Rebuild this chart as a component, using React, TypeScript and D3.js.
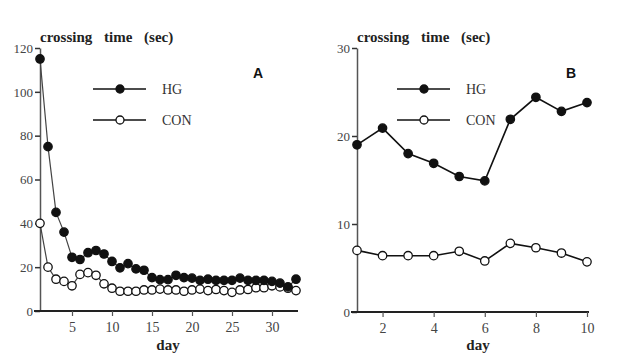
import * as d3 from "d3";
import { useEffect, useRef } from "react";

// panel A: days 1..33
const daysA = d3.range(1, 34);
const hgA = [115, 75, 45, 36, 24.5, 23.5, 26.6, 27.6, 26, 22.6, 19.7, 21.6, 19.2, 18.6, 15.2, 14.3, 14.3, 16.3, 15.2, 15, 14, 14.5, 14, 14, 14, 15, 14, 14, 14, 13.5, 12.7, 11, 14.5];
const conA = [40, 20, 14.5, 13.5, 11.5, 16.7, 17.5, 16.3, 12.4, 10.4, 9, 9, 9, 9.6, 9.6, 10, 9.6, 9.6, 9, 9.6, 10, 9.3, 9.8, 9.3, 8.5, 9.6, 9.8, 10.6, 10.6, 11.5, 11, 10.4, 9.3];
const yTicksA = [0, 20, 40, 60, 80, 100, 120];
const xTicksA = [5, 10, 15, 20, 25, 30];

// panel B: days 1..10
const daysB = d3.range(1, 11);
const hgB = [19, 20.9, 18, 16.9, 15.4, 14.9, 21.9, 24.4, 22.8, 23.8];
const conB = [7, 6.4, 6.4, 6.4, 6.9, 5.8, 7.8, 7.3, 6.7, 5.7];
const yTicksB = [0, 10, 20, 30];
const xTicksB = [2, 4, 6, 8, 10];

const W = 624;
const H = 360;
const serif = "'Liberation Serif', 'DejaVu Serif', serif";
const sans = "'Liberation Sans', Arial, sans-serif";

type Panel = {
  days: number[];
  hg: number[];
  con: number[];
  xDomain: [number, number];
  xRange: [number, number];
  yMax: number;
  yTicks: number[];
  xTicks: number[];
  top: number;
  bottom: number;
  letter: string;
  letterX: number;
  legendX: number;
  lineColor: string;
  lineWidth: number;
};

const panels: Panel[] = [
  {
    days: daysA, hg: hgA, con: conA,
    xDomain: [1, 33], xRange: [40, 296],
    yMax: 120, yTicks: yTicksA, xTicks: xTicksA,
    top: 48, bottom: 311,
    letter: "A", letterX: 253, legendX: 93,
    lineColor: "#444", lineWidth: 1.2,
  },
  {
    days: daysB, hg: hgB, con: conB,
    xDomain: [1, 10], xRange: [357, 587],
    yMax: 30, yTicks: yTicksB, xTicks: xTicksB,
    top: 48, bottom: 312,
    letter: "B", letterX: 566, legendX: 397,
    lineColor: "#111", lineWidth: 1.6,
  },
];

const App = () => {
  const ref = useRef<SVGSVGElement>(null);

  useEffect(() => {
    const svg = d3.select(ref.current);
    svg.selectAll("*").remove();
    svg.append("rect").attr("width", W).attr("height", H).attr("fill", "#fff");

    panels.forEach((p) => {
      const x = d3.scaleLinear().domain(p.xDomain).range(p.xRange);
      const y = d3.scaleLinear().domain([0, p.yMax]).range([p.bottom, p.top]);
      const left = p.xRange[0];

      // y axis
      const gy = svg.append("g")
        .attr("transform", "translate(" + left + ",0)")
        .call(d3.axisLeft(y).tickValues(p.yTicks).tickSize(5).tickPadding(2).tickSizeOuter(0));
      gy.select(".domain").attr("stroke", "#555").attr("stroke-width", 1.5);
      gy.selectAll(".tick line").attr("stroke", "#333").attr("stroke-width", 1.5);
      gy.selectAll("text").attr("fill", "#444").attr("font-family", serif).attr("font-size", 13);

      // x axis
      const gx = svg.append("g")
        .attr("transform", "translate(0," + p.bottom + ")")
        .call(d3.axisBottom(x).tickValues(p.xTicks).tickSize(5).tickPadding(6).tickSizeOuter(0));
      gx.select(".domain").attr("stroke", "#222").attr("stroke-width", 1.8)
        .attr("d", "M" + (left - 6) + ",0H" + (p.xRange[1] + 2));
      gx.selectAll(".tick line").attr("stroke", "#555").attr("stroke-width", 1.2);
      gx.selectAll("text").attr("fill", "#444").attr("font-family", serif).attr("font-size", 14);

      // titles
      svg.append("text")
        .attr("x", left).attr("y", p.top - 6)
        .attr("font-family", serif).attr("font-weight", "bold").attr("font-size", 15)
        .attr("word-spacing", 8)
        .attr("fill", "#222")
        .text("crossing time (sec)");
      svg.append("text")
        .attr("x", (left + p.xRange[1]) / 2 + (p.letter === "A" ? 0 : 6)).attr("y", 350)
        .attr("text-anchor", "middle")
        .attr("font-family", serif).attr("font-weight", "bold").attr("font-size", 15)
        .attr("fill", "#222")
        .text("day");
      svg.append("text")
        .attr("x", p.letterX).attr("y", 78)
        .attr("font-family", sans).attr("font-weight", "bold").attr("font-size", 14)
        .attr("fill", "#111")
        .text(p.letter);

      // lines + markers
      const series = [
        { vals: p.con, fill: "#fff" },
        { vals: p.hg, fill: "#111" },
      ];
      series.forEach((s) => {
        const pts = p.days.map((d, i) => [x(d), y(s.vals[i])] as [number, number]);
        svg.append("path")
          .attr("d", d3.line()(pts))
          .attr("fill", "none")
          .attr("stroke", p.lineColor)
          .attr("stroke-width", p.lineWidth);
        svg.append("g").selectAll("circle")
          .data(pts)
          .join("circle")
          .attr("cx", (d) => d[0])
          .attr("cy", (d) => d[1])
          .attr("r", 4.2)
          .attr("fill", s.fill)
          .attr("stroke", "#111")
          .attr("stroke-width", 1.3);
      });

      // legend
      const legend = [
        { name: "HG", fill: "#111", y: 89 },
        { name: "CON", fill: "#fff", y: 120 },
      ];
      legend.forEach((l) => {
        svg.append("line")
          .attr("x1", p.legendX).attr("x2", p.legendX + 53)
          .attr("y1", l.y).attr("y2", l.y)
          .attr("stroke", "#111").attr("stroke-width", 1.5);
        svg.append("circle")
          .attr("cx", p.legendX + 27).attr("cy", l.y).attr("r", 4)
          .attr("fill", l.fill).attr("stroke", "#111").attr("stroke-width", 1.3);
        svg.append("text")
          .attr("x", p.legendX + 69).attr("y", l.y + 5)
          .attr("font-family", serif).attr("font-size", 14)
          .attr("fill", "#333")
          .text(l.name);
      });
    });
  }, []);

  return (
    <svg
      ref={ref}
      width={W}
      height={H}
      style={{ position: "absolute", left: 0, top: 0 }}
    />
  );
};

export default App;
